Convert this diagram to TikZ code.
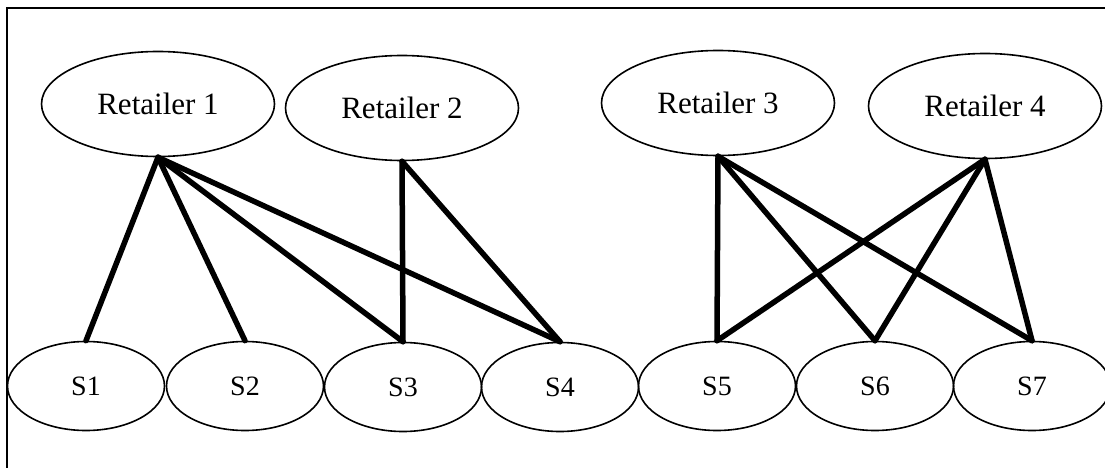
\documentclass[tikz,border=0pt]{standalone}
\usepackage{fontspec}
\setmainfont{Liberation Serif}
\usepackage{tikz}
\usetikzlibrary{shapes.geometric,positioning}
\tikzset{
  retailer/.style={draw,ellipse,line width=1.6pt,minimum width=233pt,minimum height=105pt,inner sep=0pt,font=\fontsize{31}{34}\selectfont},
  supplier/.style={draw,ellipse,line width=1.6pt,minimum width=157pt,minimum height=89pt,inner sep=0pt,font=\fontsize{28}{32}\selectfont},
  link/.style={line width=5.5pt,line cap=round}
}
\begin{document}
\begin{tikzpicture}[x=1pt,y=-1pt]
\useasboundingbox (0,0) rectangle (1105,468);
\draw[line width=2pt] (1120,8) -- (7,8) -- (7,490);
% retailers
\node[retailer] (r1) at (158,104) {Retailer 1};
\node[retailer] (r2) at (402,108) {Retailer 2};
\node[retailer] (r3) at (718,103) {Retailer 3};
\node[retailer] (r4) at (985,106) {Retailer 4};
% suppliers
\foreach \i/\x/\y in {1/86/386,2/245/386,3/403/387,4/560/387,5/717/386,6/875/386,7/1032/386}
  \node[supplier] (s\i) at (\x,\y) {S\i};
% links
\foreach \i in {1,2,3,4}
  \draw[link] (r1.south) -- (s\i.north);
\foreach \i in {3,4}
  \draw[link] (r2.south) -- (s\i.north);
\foreach \i in {5,6,7}{
  \draw[link] (r3.south) -- (s\i.north);
  \draw[link] (r4.south) -- (s\i.north);
}
\end{tikzpicture}
\end{document}
